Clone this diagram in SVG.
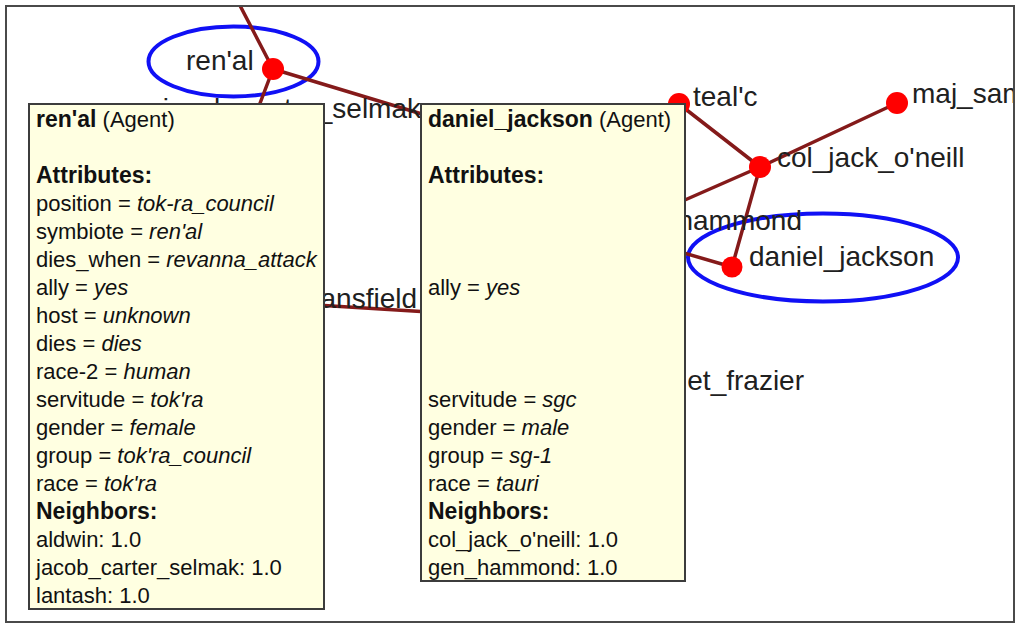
<svg xmlns="http://www.w3.org/2000/svg" width="1020" height="626" viewBox="0 0 1020 626">
<style>
.edge{stroke:#841a1a;stroke-width:3.5;fill:none;stroke-linecap:round}
.node{fill:#ff0000}
.sel{fill:none;stroke:#1010f5;stroke-width:4}
.lbl{font-family:"Liberation Sans",Arial,sans-serif;font-size:28px;fill:#202020}
.box{fill:#ffffe1;stroke:#3c3c3c;stroke-width:2}
.bt{font-family:"Liberation Sans",Arial,sans-serif;font-size:22px;fill:#111}
.b{font-weight:bold;font-size:23px}
.i{font-style:italic}
</style>
<defs>
<clipPath id="frameclip"><rect x="7" y="7" width="1006" height="614"/></clipPath>
</defs>
<rect x="0" y="0" width="1020" height="626" fill="#ffffff"/>
<g clip-path="url(#frameclip)">
<g id="highlights">
<ellipse class="sel" cx="233.5" cy="61.5" rx="85" ry="35"/>
<ellipse class="sel" cx="823" cy="257.5" rx="135" ry="44"/>
</g>
<g id="connectors">
<line class="edge" x1="234" y1="-6" x2="273" y2="69"/>
<line class="edge" x1="273" y1="69" x2="248" y2="135"/>
<line class="edge" x1="273" y1="69" x2="445" y2="121"/>
<line class="edge" x1="300" y1="304" x2="445" y2="313"/>
<line class="edge" x1="679" y1="104" x2="760" y2="167"/>
<line class="edge" x1="760" y1="167" x2="897" y2="103"/>
<line class="edge" x1="760" y1="167" x2="612" y2="232"/>
<line class="edge" x1="760" y1="167" x2="732" y2="267"/>
<line class="edge" x1="732" y1="267" x2="612" y2="232"/>
</g>
<g id="node-jacob_carter_selmak"><text class="lbl" x="421" y="118" text-anchor="end">jacob_carter_selmak</text></g>
<g id="node-mansfield"><text class="lbl" x="417" y="308" text-anchor="end">ansfield</text></g>
<g id="node-gen_hammond"><text class="lbl" x="802" y="230" text-anchor="end">gen_hammond</text></g>
<g id="node-frazier"><text class="lbl" x="804" y="390" text-anchor="end">et_frazier</text></g>
<g id="node-renal"><circle class="node" cx="273" cy="69" r="11"/><text class="lbl" x="186" y="70">ren'al</text></g>
<g id="node-tealc"><circle class="node" cx="679" cy="104" r="11"/><text class="lbl" x="693" y="106">teal'c</text></g>
<g id="node-maj_sam"><circle class="node" cx="897" cy="103" r="11"/><text class="lbl" x="912" y="103">maj_sam</text></g>
<g id="node-col_jack_oneill"><circle class="node" cx="760" cy="167" r="11"/><text class="lbl" x="777" y="167">col_jack_o'neill</text></g>
<g id="node-daniel_jackson"><circle class="node" cx="732" cy="267" r="10.5"/><text class="lbl" x="749" y="266">daniel_jackson</text></g>
</g>
<rect x="6" y="6" width="1008" height="616" fill="none" stroke="#4a4a4a" stroke-width="2"/>
<g id="tooltip-renal">
<rect class="box" x="29" y="104" width="295" height="505"/>
<text class="bt" x="36" y="127"><tspan class="b">ren'al</tspan> (Agent)</text>
<text class="bt b" x="36" y="183">Attributes:</text>
<text class="bt" x="36" y="211">position = <tspan class="i">tok-ra_council</tspan></text>
<text class="bt" x="36" y="239">symbiote = <tspan class="i">ren'al</tspan></text>
<text class="bt" x="36" y="267">dies_when = <tspan class="i">revanna_attack</tspan></text>
<text class="bt" x="36" y="295">ally = <tspan class="i">yes</tspan></text>
<text class="bt" x="36" y="323">host = <tspan class="i">unknown</tspan></text>
<text class="bt" x="36" y="351">dies = <tspan class="i">dies</tspan></text>
<text class="bt" x="36" y="379">race-2 = <tspan class="i">human</tspan></text>
<text class="bt" x="36" y="407">servitude = <tspan class="i">tok'ra</tspan></text>
<text class="bt" x="36" y="435">gender = <tspan class="i">female</tspan></text>
<text class="bt" x="36" y="463">group = <tspan class="i">tok'ra_council</tspan></text>
<text class="bt" x="36" y="491">race = <tspan class="i">tok'ra</tspan></text>
<text class="bt b" x="36" y="519">Neighbors:</text>
<text class="bt" x="36" y="547">aldwin: 1.0</text>
<text class="bt" x="36" y="575">jacob_carter_selmak: 1.0</text>
<text class="bt" x="36" y="603">lantash: 1.0</text>
</g>
<g id="tooltip-daniel_jackson">
<rect class="box" x="421" y="104" width="264" height="477"/>
<text class="bt" x="428" y="127"><tspan class="b">daniel_jackson</tspan> (Agent)</text>
<text class="bt b" x="428" y="183">Attributes:</text>
<text class="bt" x="428" y="295">ally = <tspan class="i">yes</tspan></text>
<text class="bt" x="428" y="407">servitude = <tspan class="i">sgc</tspan></text>
<text class="bt" x="428" y="435">gender = <tspan class="i">male</tspan></text>
<text class="bt" x="428" y="463">group = <tspan class="i">sg-1</tspan></text>
<text class="bt" x="428" y="491">race = <tspan class="i">tauri</tspan></text>
<text class="bt b" x="428" y="519">Neighbors:</text>
<text class="bt" x="428" y="547">col_jack_o'neill: 1.0</text>
<text class="bt" x="428" y="575">gen_hammond: 1.0</text>
</g>
</svg>
